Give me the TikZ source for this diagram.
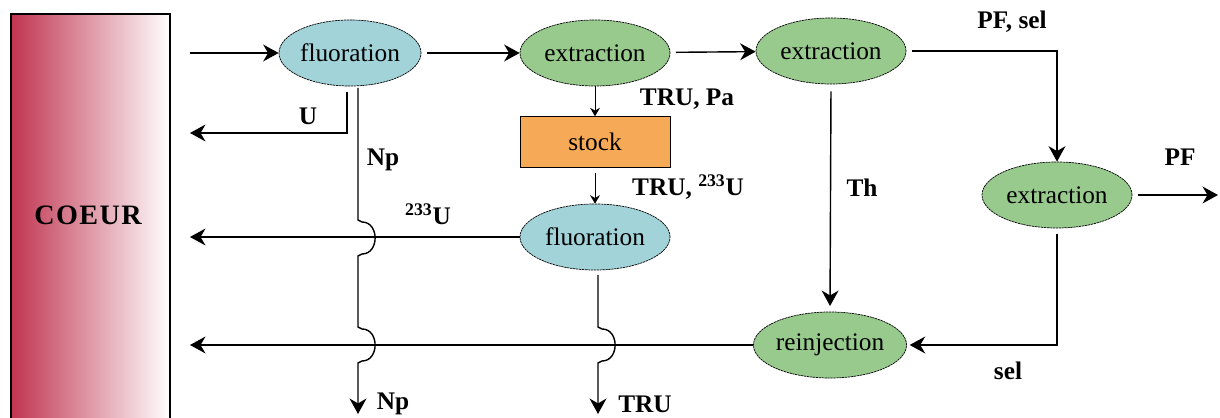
\documentclass[tikz,border=0pt]{standalone}
\usepackage{fontspec}
\setmainfont{Liberation Serif}
\usetikzlibrary{shapes.geometric,arrows.meta}

\definecolor{bleu}{RGB}{162,211,217}
\definecolor{vert}{RGB}{152,202,142}
\definecolor{orangestock}{RGB}{246,170,88}
\definecolor{rouge}{RGB}{192,52,80}

\begin{document}
\begin{tikzpicture}[x=0.025cm,y=-0.025cm,line width=1pt,
  fleche/.style={-{Stealth[length=11pt,width=12pt,inset=3.5pt]}},
  petite/.style={-{Stealth[length=6pt,width=7pt,inset=2pt]}},
  proc/.style={ellipse,draw=black,line width=0.5pt,dash pattern=on 1.6pt off 0.5pt,
    inner sep=0pt,minimum width=3.75cm,minimum height=1.65cm,font=\fontsize{18}{18}\selectfont},
  fluo/.style={proc,fill=bleu},
  extr/.style={proc,fill=vert},
  lab/.style={font=\fontsize{18}{18}\selectfont\bfseries}]

\useasboundingbox (0,0) rectangle (1220,418);

%Coeur
\node[draw=black,line width=0.8pt,left color=rouge,right color=white,
  minimum width=3.975cm,minimum height=10.2cm,inner sep=0pt] (coeur) at (90.5,218) {};
\node[font=\fontsize{20}{20}\selectfont\bfseries\addfontfeature{LetterSpace=5}] (tcoeur) at (88,215) {COEUR};

%Etapes
\node[fluo,minimum width=3.55cm] (fluo1) at (350,53) {fluoration};
\node[extr] (extr1) at (595,53) {extraction};
\node[extr] (extr2) at (831,51) {extraction};
\node[extr] (extr3) at (1057,195) {extraction};
\node[draw=black,line width=0.5pt,fill=orangestock,minimum width=3.75cm,minimum height=1.27cm,
  font=\fontsize{18}{18}\selectfont] (stock) at (595,142) {stock};
\node[fluo] (fluo2) at (595,237) {fluoration};
\node[extr] (reinj) at (830,345) {reinjection};

%Points libres
\coordinate (entree) at (190,53);
\coordinate (retU) at (190,133);
\coordinate (coinU) at (347,133);
\coordinate (ret233) at (190,237);
\coordinate (retreinj) at (190,345);
\coordinate (sortiepf) at (1218,195);
\coordinate (npdebut) at (358,88);
\coordinate (npfin) at (358,414);
\coordinate (trudebut) at (598,275);
\coordinate (trufin) at (598,414);

%Fleches
\draw[fleche] (entree) -- (fluo1);
\draw[fleche,shorten <=4pt] (fluo1) -- (extr1);
\draw[fleche,shorten <=4pt] (extr1) -- (extr2);
\draw[fleche,shorten <=4pt] (extr2.east) -| (extr3.north);
\draw[fleche,shorten <=4pt] (extr3.east) -- (sortiepf);
\draw[fleche,shorten <=4pt,shorten >=2pt] (extr3.south) |- (reinj.east);
\draw[fleche,shorten <=5pt,shorten >=4pt] (extr2.south) -- (reinj.north);
\draw[petite,line width=0.7pt] (extr1.south) -- (stock.north);
\draw[petite,line width=0.7pt,shorten <=4pt] (stock.south) -- (fluo2.north);
\draw[fleche] (fluo2.west) -- (ret233);
\draw[fleche] (reinj.west) -- (retreinj);
\draw[fleche] ([xshift=-3*0.025cm,yshift=-4pt]fluo1.south) -- (coinU) -- (retU);

%Sauts
\draw[fleche] (npdebut) -- (358,220) -- (362,222) to[out=0,in=0,looseness=1.4] (362,254) -- (358,256)
  -- (358,327) -- (362,329) to[out=0,in=0,looseness=1.4] (362,361) -- (358,363) -- (npfin);
\draw[fleche] (trudebut) -- (598,327) -- (602,329) to[out=0,in=0,looseness=1.4] (602,361)
  -- (598,363) -- (trufin);

%Etiquettes
\node[lab] (lU) at (308,116) {U};
\node[lab] (lnp) at (383,160) {Np};
\node[lab] (l233) at (428,214) {\textsuperscript{233}U};
\node[lab] (ltrupa) at (687,99) {TRU, Pa};
\node[lab] (ltru233) at (688,187) {TRU, \textsuperscript{233}U};
\node[lab] (lth) at (862,188) {Th};
\node[lab] (lpfsel) at (1012,22) {PF, sel};
\node[lab] (lpf) at (1180,157) {PF};
\node[lab] (lsel) at (1008,371) {sel};
\node[lab] (lnpbas) at (393,404) {Np};
\node[lab] (ltrubas) at (645,404) {TRU};

\end{tikzpicture}
\end{document}
